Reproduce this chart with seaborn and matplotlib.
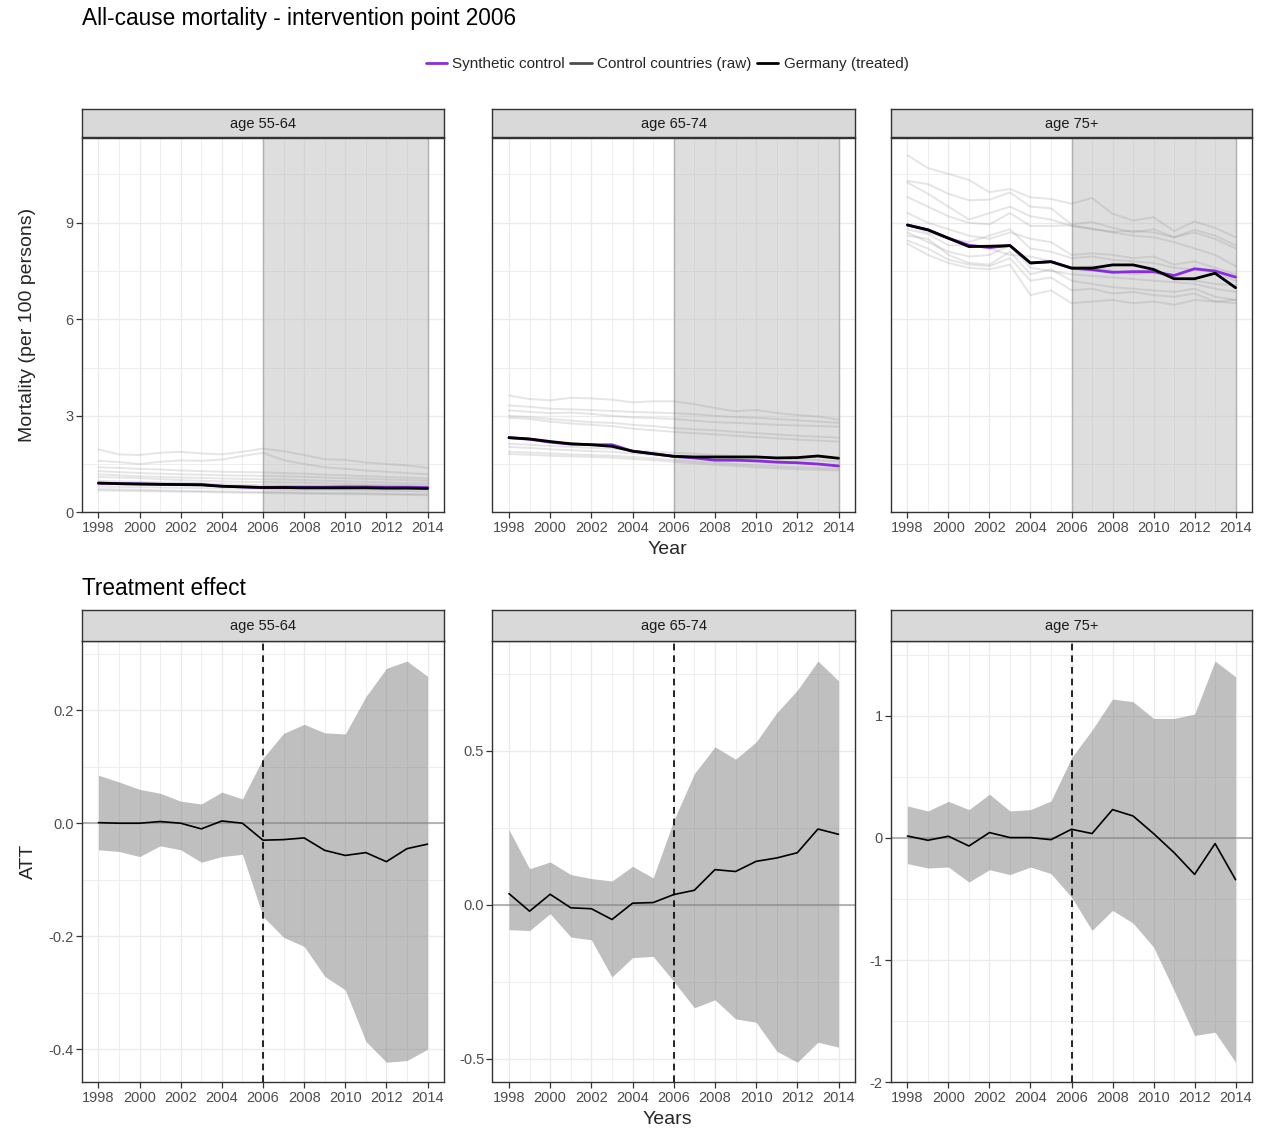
import numpy as np
import pandas as pd
import matplotlib
matplotlib.use("Agg")
import matplotlib.pyplot as plt
from matplotlib.lines import Line2D
import seaborn as sns

sns.set_theme(style="white")
plt.rcParams["font.family"] = ["Liberation Sans", "DejaVu Sans"]
plt.rcParams["axes.unicode_minus"] = False

# ---------------------------------------------------------------- data
years = list(range(1998, 2015))
age_groups = ["age 55-64", "age 65-74", "age 75+"]
intervention_year = 2006

# Mortality per 100 persons, Germany (treated)
germany_55_64 = [0.91, 0.89, 0.88, 0.87, 0.86, 0.85, 0.81, 0.79, 0.77, 0.77, 0.76, 0.76, 0.76, 0.76, 0.75, 0.75, 0.74]
germany_65_74 = [2.32, 2.28, 2.20, 2.13, 2.10, 2.05, 1.90, 1.82, 1.74, 1.72, 1.72, 1.72, 1.72, 1.69, 1.70, 1.75, 1.68]
germany_75 = [8.93, 8.78, 8.52, 8.26, 8.27, 8.29, 7.75, 7.79, 7.59, 7.59, 7.69, 7.69, 7.55, 7.26, 7.26, 7.43, 6.98]

# Synthetic control
synth_55_64 = [0.90, 0.89, 0.88, 0.87, 0.87, 0.87, 0.81, 0.79, 0.77, 0.78, 0.78, 0.78, 0.79, 0.79, 0.78, 0.78, 0.77]
synth_65_74 = [2.32, 2.27, 2.18, 2.12, 2.10, 2.10, 1.90, 1.82, 1.74, 1.69, 1.62, 1.62, 1.60, 1.56, 1.54, 1.50, 1.44]
synth_75 = [8.93, 8.78, 8.52, 8.30, 8.23, 8.29, 7.75, 7.79, 7.59, 7.54, 7.46, 7.48, 7.48, 7.36, 7.57, 7.50, 7.31]

# Control countries (raw)
controls_55_64 = [
    [1.95, 1.80, 1.78, 1.85, 1.88, 1.83, 1.80, 1.88, 1.98, 1.90, 1.78, 1.65, 1.63, 1.55, 1.50, 1.46, 1.38],
    [1.60, 1.56, 1.50, 1.57, 1.61, 1.60, 1.64, 1.75, 1.85, 1.62, 1.50, 1.40, 1.35, 1.30, 1.26, 1.22, 1.18],
    [1.40, 1.38, 1.35, 1.33, 1.30, 1.28, 1.26, 1.25, 1.24, 1.22, 1.20, 1.17, 1.15, 1.12, 1.10, 1.08, 1.05],
    [1.28, 1.25, 1.22, 1.20, 1.18, 1.17, 1.15, 1.14, 1.13, 1.12, 1.10, 1.08, 1.06, 1.04, 1.02, 1.00, 0.98],
    [1.18, 1.15, 1.12, 1.10, 1.08, 1.07, 1.05, 1.04, 1.03, 1.02, 1.00, 0.98, 0.96, 0.95, 0.93, 0.91, 0.90],
    [1.10, 1.08, 1.06, 1.03, 1.00, 0.98, 0.96, 0.95, 0.94, 0.93, 0.92, 0.90, 0.88, 0.87, 0.86, 0.85, 0.84],
    [0.98, 0.96, 0.95, 0.93, 0.92, 0.90, 0.88, 0.86, 0.84, 0.83, 0.82, 0.81, 0.80, 0.79, 0.78, 0.77, 0.76],
    [0.80, 0.79, 0.78, 0.77, 0.76, 0.75, 0.74, 0.73, 0.72, 0.71, 0.70, 0.70, 0.69, 0.68, 0.67, 0.66, 0.65],
    [0.72, 0.71, 0.70, 0.68, 0.67, 0.66, 0.65, 0.64, 0.63, 0.62, 0.61, 0.60, 0.60, 0.59, 0.58, 0.57, 0.56],
    [0.68, 0.67, 0.66, 0.65, 0.64, 0.63, 0.62, 0.61, 0.60, 0.59, 0.58, 0.57, 0.56, 0.56, 0.55, 0.54, 0.53],
]
controls_65_74 = [
    [3.63, 3.52, 3.48, 3.56, 3.54, 3.50, 3.42, 3.45, 3.45, 3.36, 3.24, 3.14, 3.18, 3.09, 3.02, 2.98, 2.88],
    [3.32, 3.28, 3.22, 3.20, 3.18, 3.15, 3.12, 3.10, 3.08, 3.05, 3.00, 2.96, 2.94, 2.90, 2.86, 2.82, 2.78],
    [3.17, 3.12, 3.08, 3.10, 3.06, 3.00, 2.95, 2.93, 2.90, 2.85, 2.80, 2.78, 2.75, 2.72, 2.70, 2.68, 2.66],
    [3.00, 2.96, 2.90, 2.85, 2.80, 2.78, 2.72, 2.68, 2.62, 2.58, 2.55, 2.50, 2.46, 2.42, 2.38, 2.35, 2.32],
    [2.94, 2.90, 2.82, 2.76, 2.72, 2.68, 2.60, 2.55, 2.50, 2.46, 2.42, 2.38, 2.34, 2.30, 2.26, 2.23, 2.20],
    [2.13, 2.10, 2.06, 2.03, 2.00, 1.98, 1.92, 1.88, 1.85, 1.82, 1.78, 1.75, 1.72, 1.68, 1.65, 1.62, 1.58],
    [2.03, 2.00, 1.96, 1.93, 1.90, 1.88, 1.83, 1.78, 1.72, 1.68, 1.63, 1.60, 1.57, 1.54, 1.52, 1.50, 1.48],
    [1.88, 1.86, 1.83, 1.80, 1.78, 1.76, 1.72, 1.68, 1.63, 1.58, 1.54, 1.50, 1.46, 1.43, 1.40, 1.38, 1.35],
    [1.81, 1.79, 1.76, 1.74, 1.72, 1.70, 1.66, 1.62, 1.57, 1.52, 1.48, 1.44, 1.40, 1.37, 1.34, 1.32, 1.30],
]
controls_75 = [
    [11.10, 10.70, 10.52, 10.33, 9.95, 10.05, 9.79, 9.74, 9.59, 9.77, 9.28, 9.07, 9.17, 8.74, 9.04, 8.84, 8.55],
    [10.30, 10.20, 9.90, 9.70, 9.72, 9.94, 9.50, 9.45, 8.95, 9.02, 8.85, 8.70, 8.80, 8.55, 8.78, 8.60, 8.30],
    [10.25, 9.90, 9.50, 9.10, 9.30, 9.50, 9.20, 9.10, 8.90, 8.82, 8.70, 8.60, 8.55, 8.40, 8.20, 8.00, 7.65],
    [9.80, 9.50, 9.20, 9.00, 8.95, 9.30, 8.90, 8.90, 8.92, 8.80, 8.72, 8.75, 8.70, 8.55, 8.70, 8.50, 8.20],
    [9.30, 9.00, 8.80, 8.60, 8.50, 8.70, 8.50, 8.40, 8.00, 8.05, 8.00, 7.90, 7.95, 7.70, 7.80, 7.60, 7.40],
    [8.95, 8.70, 8.50, 8.40, 8.60, 8.80, 8.20, 8.10, 7.90, 7.95, 7.85, 7.80, 7.75, 7.60, 7.55, 7.45, 7.20],
    [8.80, 8.65, 8.30, 8.30, 8.20, 8.00, 7.95, 7.80, 7.60, 7.65, 7.50, 7.40, 7.45, 7.30, 7.20, 7.10, 7.05],
    [8.70, 8.40, 8.10, 7.95, 8.00, 8.30, 7.60, 7.50, 7.40, 7.35, 7.30, 7.25, 7.20, 7.15, 7.10, 6.95, 6.85],
    [8.60, 8.50, 8.00, 7.75, 7.70, 8.10, 7.40, 7.55, 7.20, 7.10, 7.00, 6.95, 6.90, 6.85, 6.95, 6.70, 6.60],
    [8.45, 8.20, 7.85, 7.70, 7.65, 7.90, 7.20, 7.30, 6.90, 6.95, 6.80, 6.85, 6.75, 6.70, 6.80, 6.55, 6.50],
    [8.35, 8.00, 7.75, 7.60, 7.55, 7.70, 6.75, 6.90, 6.50, 6.55, 6.60, 6.50, 6.55, 6.45, 6.60, 6.55, 6.60],
]

# Treatment effect (ATT) with confidence band
att_55_64 = [0.001, 0.000, 0.000, 0.003, 0.000, -0.010, 0.004, 0.000, -0.030, -0.029, -0.026, -0.048, -0.057, -0.052, -0.068, -0.045, -0.037]
att_lo_55_64 = [-0.047, -0.050, -0.059, -0.040, -0.047, -0.069, -0.059, -0.055, -0.165, -0.202, -0.218, -0.271, -0.295, -0.386, -0.423, -0.420, -0.400]
att_hi_55_64 = [0.085, 0.073, 0.060, 0.053, 0.039, 0.034, 0.055, 0.043, 0.115, 0.159, 0.175, 0.160, 0.158, 0.224, 0.274, 0.287, 0.260]

att_65_74 = [0.036, -0.021, 0.034, -0.010, -0.013, -0.048, 0.005, 0.007, 0.033, 0.047, 0.114, 0.108, 0.141, 0.152, 0.169, 0.246, 0.229]
att_lo_65_74 = [-0.081, -0.084, -0.029, -0.105, -0.114, -0.235, -0.172, -0.168, -0.249, -0.335, -0.309, -0.371, -0.382, -0.476, -0.512, -0.447, -0.463]
att_hi_65_74 = [0.244, 0.117, 0.139, 0.098, 0.085, 0.077, 0.125, 0.087, 0.274, 0.426, 0.513, 0.473, 0.529, 0.624, 0.697, 0.792, 0.728]

att_75 = [0.016, -0.019, 0.014, -0.066, 0.044, 0.003, 0.003, -0.014, 0.071, 0.036, 0.232, 0.180, 0.036, -0.120, -0.298, -0.046, -0.342]
att_lo_75 = [-0.210, -0.246, -0.238, -0.361, -0.260, -0.300, -0.238, -0.292, -0.484, -0.757, -0.593, -0.697, -0.893, -1.248, -1.617, -1.590, -1.836]
att_hi_75 = [0.262, 0.221, 0.300, 0.232, 0.358, 0.221, 0.232, 0.303, 0.656, 0.883, 1.137, 1.115, 0.978, 0.978, 1.014, 1.448, 1.320]

mortality_ticks = [0, 3, 6, 9]
att_ticks = [[-0.4, -0.2, 0.0, 0.2], [-0.5, 0.0, 0.5], [-2, -1, 0, 1]]
att_tick_fmt = ["{:.1f}", "{:.1f}", "{:.0f}"]

# ---------------------------------------------------------------- styling
W, H = 1265, 1133
PURPLE = "#8A2BE2"
BORDER = "#333333"
GRID = "#EBEBEB"
TICK_TEXT = "#4D4D4D"

fig = plt.figure(figsize=(W / 100, H / 100), dpi=100)
fig.patch.set_facecolor("white")


def px_axes(x0, y0, x1, y1):
    """Axes from pixel box (top-left origin)."""
    return fig.add_axes([x0 / W, 1 - y1 / H, (x1 - x0) / W, (y1 - y0) / H])


def style_panel(ax, show_y=True):
    ax.set_facecolor("white")
    ax.set_xticks(range(1998, 2015, 2))
    ax.set_xticks(range(1999, 2015, 2), minor=True)
    ax.set_xlim(1997.2, 2014.8)
    ax.grid(True, which="major", color=GRID, lw=1.0, zorder=0)
    ax.grid(True, which="minor", color=GRID, lw=0.6, zorder=0)
    ax.set_axisbelow(True)
    for s in ax.spines.values():
        s.set_color(BORDER)
        s.set_linewidth(1.0)
        s.set_visible(True)
    ax.tick_params(axis="both", which="major", length=4, width=0.9, color=BORDER,
                   labelsize=10.5, labelcolor=TICK_TEXT, pad=2, direction="out",
                   bottom=True, left=show_y)
    ax.tick_params(axis="both", which="minor", length=0)
    if not show_y:
        ax.tick_params(axis="y", which="major", labelleft=False, left=False)
    ax.set_xlabel("")
    ax.set_ylabel("")


def strip(x0, y0, x1, y1, label):
    s = px_axes(x0, y0, x1, y1)
    s.set_facecolor("#D9D9D9")
    s.set_xticks([])
    s.set_yticks([])
    for sp in s.spines.values():
        sp.set_color(BORDER)
        sp.set_linewidth(1.0)
    s.text(0.5, 0.47, label, ha="center", va="center", fontsize=10.5, color="#1A1A1A",
           transform=s.transAxes)


panel_x = [(82, 444), (492.5, 855), (891, 1252)]
top_y = (137.5, 512.3)
bot_y = (641, 1082.3)

germany = [germany_55_64, germany_65_74, germany_75]
synth = [synth_55_64, synth_65_74, synth_75]
controls = [controls_55_64, controls_65_74, controls_75]
att = [att_55_64, att_65_74, att_75]
att_lo = [att_lo_55_64, att_lo_65_74, att_lo_75]
att_hi = [att_hi_55_64, att_hi_65_74, att_hi_75]

# ---------------------------------------------------------------- top row
for i, (x0, x1) in enumerate(panel_x):
    ax = px_axes(x0, top_y[0], x1, top_y[1])
    strip(x0, 108.5, x1, top_y[0], age_groups[i])

    ax.axvspan(intervention_year, years[-1], facecolor="#BEBEBE", alpha=0.5,
               edgecolor="none", zorder=1)
    ax.axvline(intervention_year, color="#B0B0B0", lw=1.0, zorder=1)
    ax.axvline(years[-1], color="#B0B0B0", lw=1.0, zorder=1)

    ctrl_df = pd.DataFrame(
        [(c, y, v) for c, series in enumerate(controls[i]) for y, v in zip(years, series)],
        columns=["country", "year", "value"],
    )
    sns.lineplot(data=ctrl_df, x="year", y="value", units="country", estimator=None,
                 color="#808080", alpha=0.2, lw=1.4, ax=ax, legend=False, zorder=2)
    sns.lineplot(x=years, y=synth[i], color=PURPLE, lw=2.0, ax=ax, legend=False, zorder=3)
    sns.lineplot(x=years, y=germany[i], color="black", lw=2.0, ax=ax, legend=False, zorder=4)

    ax.set_yticks(mortality_ticks)
    ax.set_yticks([1.5, 4.5, 7.5, 10.5], minor=True)
    ax.set_ylim(0, 11.65)
    style_panel(ax, show_y=(i == 0))

# ---------------------------------------------------------------- bottom row
for i, (x0, x1) in enumerate(panel_x):
    ax = px_axes(x0, bot_y[0], x1, bot_y[1])
    strip(x0, 609.5, x1, bot_y[0], age_groups[i])

    lo = np.array(att_lo[i])
    hi = np.array(att_hi[i])

    ax.axhline(0, color="#A8A8A8", lw=1.2, zorder=1)
    ax.fill_between(years, lo, hi, color="#808080", alpha=0.5, lw=0, zorder=2)
    sns.lineplot(x=years, y=att[i], color="black", lw=1.2, ax=ax, legend=False, zorder=3)
    ax.axvline(intervention_year, color="black", lw=1.2, ls=(0, (4, 3)), zorder=4)

    ticks = att_ticks[i]
    step = ticks[1] - ticks[0]
    ax.set_yticks(ticks)
    ax.set_yticklabels([att_tick_fmt[i].format(t) for t in ticks])
    ax.set_yticks([t + step / 2 for t in ticks] + [ticks[0] - step / 2], minor=True)

    # 5 % padding on both sides of the band
    span = hi.max() - lo.min()
    ax.set_ylim(lo.min() - 0.05 * span, hi.max() + 0.05 * span)
    style_panel(ax, show_y=True)

# ---------------------------------------------------------------- text
fig.text(82 / W, 1 - 18 / H, "All-cause mortality - intervention point 2006",
         fontsize=16.3, ha="left", va="center", color="black")
fig.text(82 / W, 1 - 588 / H, "Treatment effect",
         fontsize=16.3, ha="left", va="center", color="black")
fig.text(667 / W, 1 - 549 / H, "Year", fontsize=14, ha="center", va="center")
fig.text(667 / W, 1 - 1119 / H, "Years", fontsize=14, ha="center", va="center")
fig.text(28 / W, 1 - 325 / H, "Mortality (per 100 persons)", fontsize=14,
         rotation=90, ha="center", va="center")
fig.text(28 / W, 1 - 861 / H, "ATT", fontsize=14, rotation=90, ha="center", va="center")

handles = [
    Line2D([], [], color=PURPLE, lw=2.0),
    Line2D([], [], color="#4D4D4D", lw=2.0),
    Line2D([], [], color="black", lw=2.0),
]
fig.legend(handles, ["Synthetic control", "Control countries (raw)", "Germany (treated)"],
           loc="center", bbox_to_anchor=(667 / W, 1 - 64 / H), ncol=3, frameon=False,
           fontsize=11, handlelength=1.4, handletextpad=0.35, columnspacing=0.35,
           borderaxespad=0)

fig.savefig("out.png", dpi=100, facecolor="white")
